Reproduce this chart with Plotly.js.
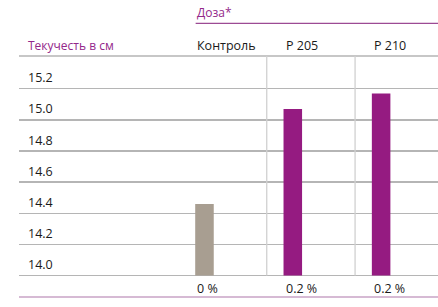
<!DOCTYPE html>
<html>
<head>
<meta charset="utf-8">
<script src="https://cdn.plot.ly/plotly-3.0.1.min.js"></script>
<style>html,body{margin:0;padding:0;background:#fff;}#chart{width:438px;height:307px;}</style>
</head>
<body>
<div id="chart"></div>
<script>
const categories = ["Контроль", "P 205", "P 210"];
const values = [14.46, 15.07, 15.17];
const doses = ["0 %", "0.2 %", "0.2 %"];
const yTicks = [14.0, 14.2, 14.4, 14.6, 14.8, 15.0, 15.2];
const yTickLabels = ["14.0", "14.2", "14.4", "14.6", "14.8", "15.0", "15.2"];
const barColors = ["#a89e91", "#951b81", "#951b81"];
const yTitle = "Текучесть в см";
const groupTitle = "Доза*";

const FONT = "Open Sans, sans-serif";
const PURPLE = "#93278a";
const INK = "#1a1a1a";
const YTOP = 15.411;
const BASE = yTicks[0];

const idx = categories.map((c, i) => i);

const trace = {
  type: "bar",
  x: idx,
  y: values.map(v => v - BASE),
  base: BASE,
  width: 0.21,
  marker: {color: barColors},
  hoverinfo: "skip"
};

const annotations = [];
categories.forEach((c, i) => {
  annotations.push({x: i, y: 1, xref: "x", yref: "paper", text: c, showarrow: false,
    xanchor: "left", yanchor: "bottom", xshift: -9, yshift: 0,
    font: {family: FONT, size: 12.5, color: INK}});
  annotations.push({x: i, y: 0, xref: "x", yref: "paper", text: doses[i], showarrow: false,
    xanchor: "left", yanchor: "middle", xshift: -9, yshift: -11,
    font: {family: FONT, size: 12.5, color: INK}});
});
yTicks.forEach((v, i) => {
  annotations.push({x: 0, y: v, xref: "paper", yref: "y", text: yTickLabels[i], showarrow: false,
    xanchor: "left", yanchor: "middle", xshift: 7, yshift: 11,
    font: {family: FONT, size: 12.5, color: INK}});
});
annotations.push({x: 0, y: 1, xref: "paper", yref: "paper", text: yTitle, showarrow: false,
  xanchor: "left", yanchor: "bottom", xshift: 7, yshift: 0,
  font: {family: FONT, size: 12, color: PURPLE}});
annotations.push({x: 0, y: 1, xref: "x", yref: "paper", text: groupTitle, showarrow: false,
  xanchor: "left", yanchor: "bottom", xshift: -9, yshift: 33,
  font: {family: FONT, size: 12, color: PURPLE}});

const shapes = [
  {type: "line", xref: "paper", yref: "paper", x0: 0, x1: 1, y0: 1, y1: 1,
   line: {color: "#b5b5b5", width: 1.3}},
  {type: "line", xref: "paper", yref: "paper", x0: 0, x1: 1, y0: -0.0905, y1: -0.0905,
   line: {color: "#c9a3c6", width: 1.5}},
  {type: "line", xref: "x", yref: "paper", x0: -0.1, x1: 2.7, y0: 1.148, y1: 1.148,
   line: {color: "#9c4a94", width: 1.3}}
];
idx.slice(0, -1).forEach(i => {
  shapes.push({type: "line", xref: "x", yref: "y", x0: i + 0.705, x1: i + 0.705,
    y0: yTicks[0], y1: YTOP, line: {color: "#d0d0d0", width: 1.3}});
});

const layout = {
  width: 438, height: 307,
  margin: {l: 19, r: 0, t: 56, b: 30},
  paper_bgcolor: "#fff", plot_bgcolor: "#fff",
  showlegend: false,
  font: {family: FONT, size: 12, color: INK},
  xaxis: {range: [-2.10, 2.644], showgrid: false, zeroline: false, showticklabels: false,
    showline: false, ticks: ""},
  yaxis: {range: [13.99, YTOP], tickvals: yTicks, showticklabels: false,
    showgrid: true, gridcolor: "#b5b5b5", gridwidth: 1.3, zeroline: false, showline: false,
    ticks: ""},
  annotations: annotations,
  shapes: shapes
};

Plotly.newPlot("chart", [trace], layout, {displayModeBar: false, staticPlot: true});
</script>
</body>
</html>
